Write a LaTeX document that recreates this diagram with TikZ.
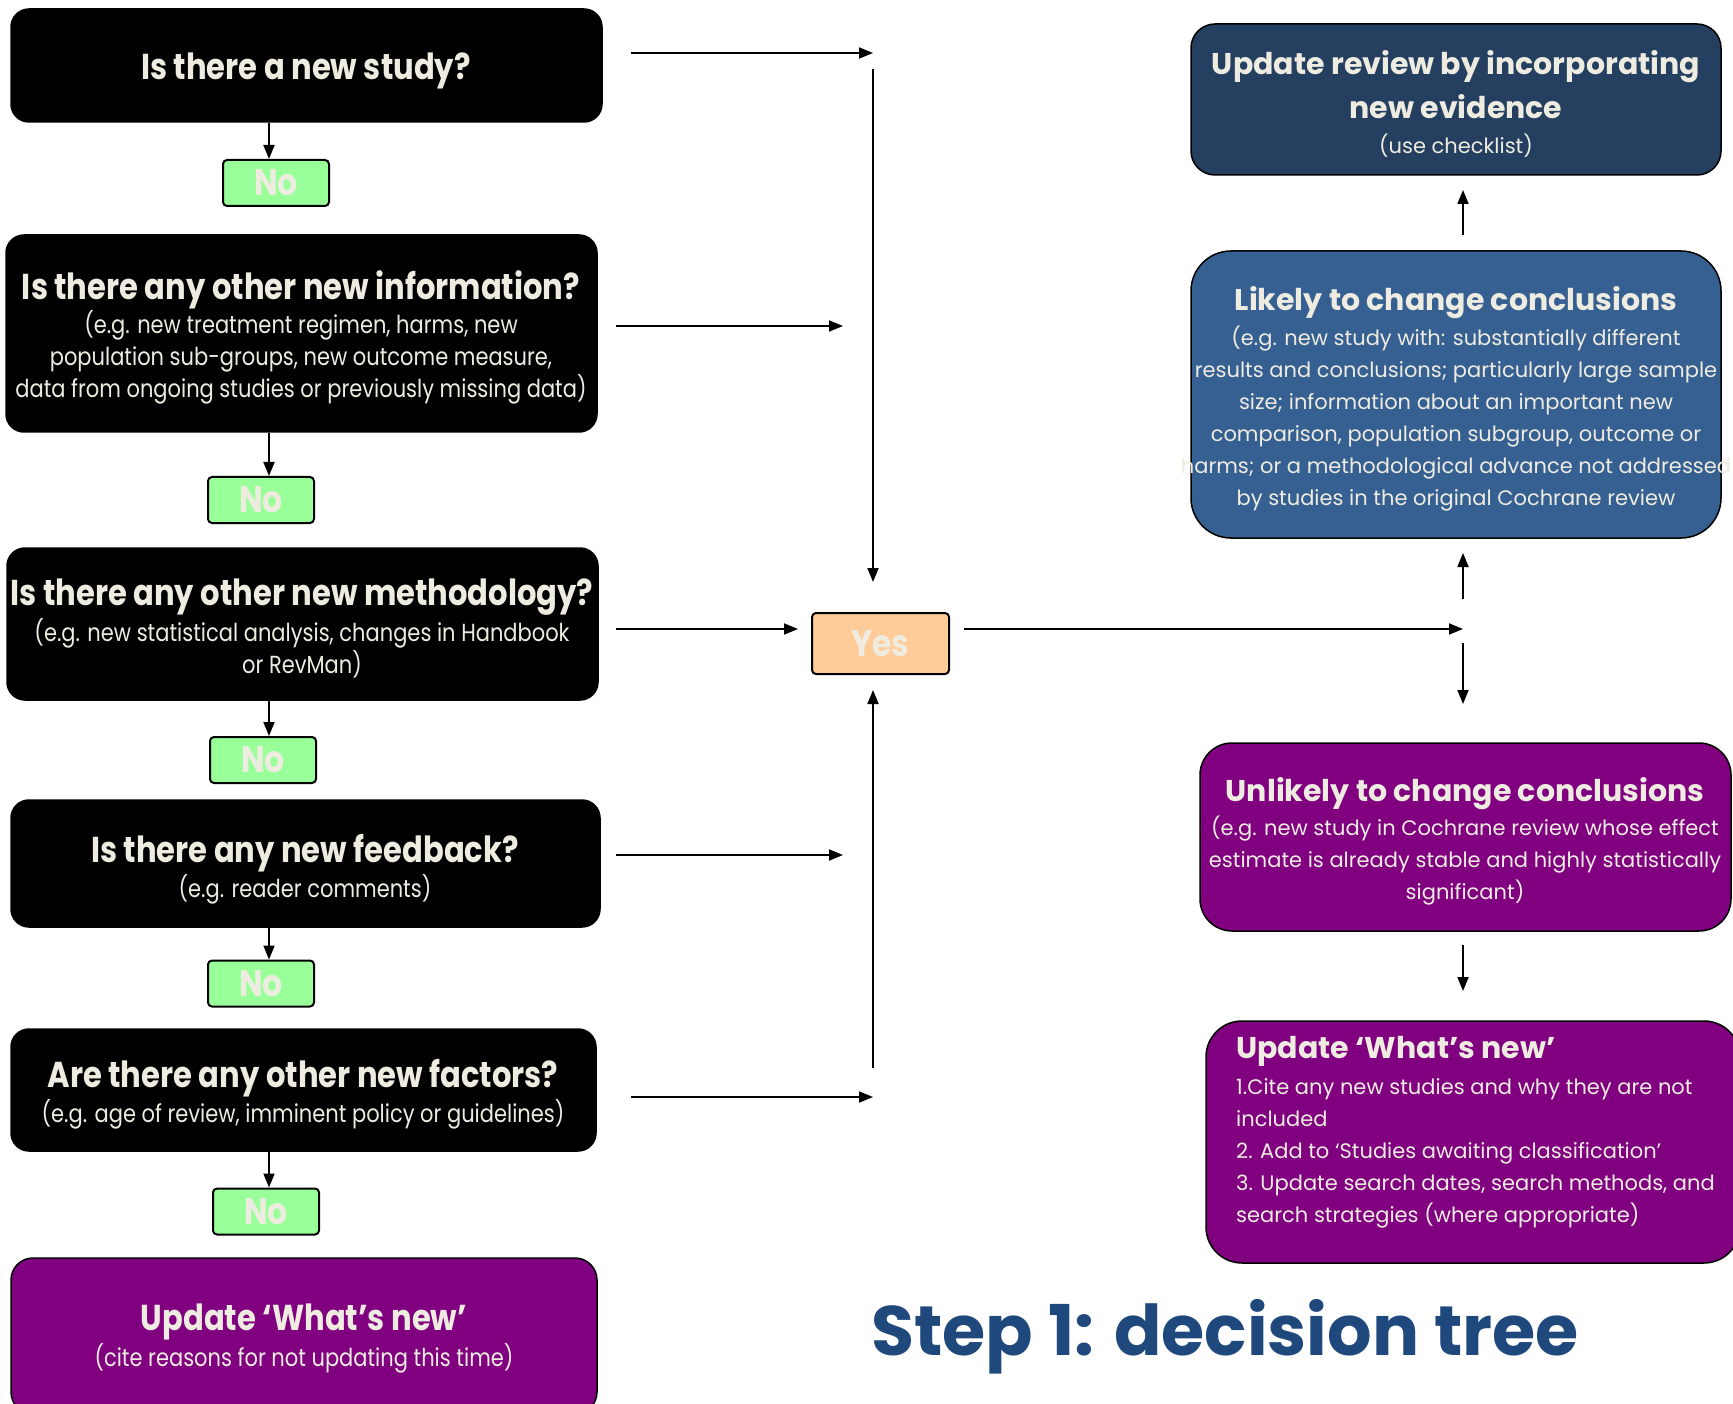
\documentclass[tikz,border=0pt]{standalone}
\usepackage{fontspec}
\setmainfont{Poppins}
\newfontfamily\cond[FakeStretch=0.85]{Poppins}
\usetikzlibrary{arrows.meta}
\definecolor{txt}{HTML}{EEECE1}
\definecolor{nogreen}{HTML}{99FF99}
\definecolor{yespeach}{HTML}{FFCC99}
\definecolor{navy}{HTML}{243F60}
\definecolor{steel}{HTML}{366092}
\definecolor{purp}{HTML}{800080}
\definecolor{ttl}{HTML}{1F497D}
\tikzset{
  box/.style={rectangle, draw=black, line width=1.5pt, inner sep=0pt},
  blk/.style={box, fill=black, rounded corners=18pt},
  nobox/.style={rectangle, rounded corners=4pt, draw=black, line width=2pt, fill=nogreen,
    minimum width=106pt, minimum height=46pt, inner sep=0pt, text=txt,
    font=\cond\bfseries\fontsize{37}{37}\selectfont},
  yesbox/.style={nobox, fill=yespeach, minimum width=137pt, minimum height=61pt},
  lt/.style={text=txt, inner sep=0pt, font=\cond\bfseries\fontsize{36}{40}\selectfont, align=center},
  ls/.style={text=txt, inner sep=0pt, font=\cond\fontsize{24.7}{32}\selectfont, align=center},
  rtt/.style={text=txt, inner sep=0pt, font=\bfseries\fontsize{30}{44}\selectfont, align=center},
  rss/.style={text=txt, inner sep=0pt, font=\fontsize{21}{32}\selectfont, align=center},
  arr/.style={line width=1.8pt, -{Triangle[length=14pt,width=11pt]}}
}
\begin{document}
\begin{tikzpicture}[x=1pt,y=-1pt]
\useasboundingbox (0,0) rectangle (1733,1404);
\fill[white] (0,0) rectangle (1733,1404);
\begin{scope}
\clip (0,0) rectangle (1733,1404);
% left question boxes
\node[blk, minimum width=591pt, minimum height=113pt] (B1) at (306.5,65.5) {};
\node[blk, minimum width=591pt, minimum height=197pt] (B2) at (301.5,333.5) {};
\node[blk, minimum width=591pt, minimum height=152pt] (B3) at (302.5,624) {};
\node[blk, minimum width=589pt, minimum height=127pt] (B4) at (305.5,863.5) {};
\node[blk, minimum width=585pt, minimum height=122pt] (B5) at (303.5,1090) {};
\node[box, fill=purp, rounded corners=22pt, minimum width=586pt, minimum height=156pt] (B6) at (304,1336) {};
% No boxes
\node[nobox] (N1) at (276,183) {No};
\node[nobox] (N2) at (261,500) {No};
\node[nobox] (N3) at (263,760) {No};
\node[nobox] (N4) at (261,983.5) {No};
\node[nobox] (N5) at (266,1211.5) {No};
\node[yesbox] (Y) at (880.5,643.5) {Yes};
% right boxes
\node[box, fill=navy, rounded corners=24pt, minimum width=530pt, minimum height=151pt] (R1) at (1456,99.5) {};
\node[box, fill=steel, rounded corners=40pt, minimum width=530pt, minimum height=287pt] (R2) at (1456,394.5) {};
\node[box, fill=purp, rounded corners=32pt, minimum width=531pt, minimum height=188pt] (R3) at (1465.5,837) {};
\node[box, fill=purp, rounded corners=36pt, minimum width=534pt, minimum height=242pt] (R4) at (1473,1142) {};
% left texts
\node[lt] (T1) at (306,71) {Is there a new study?};
\node[lt] (T2) at (301,290) {Is there any other new information?};
\node[ls] (S2) at (301,357) {(e.g. new treatment regimen, harms, new\\population sub-groups, new outcome measure,\\data from ongoing studies or previously missing data)};
\node[lt] (T3) at (302,597) {Is there any other new methodology?};
\node[ls] (S3) at (302,648) {(e.g. new statistical analysis, changes in Handbook\\or RevMan)};
\node[lt] (T4) at (305,853) {Is there any new feedback?};
\node[ls] (S4) at (305,889) {(e.g. reader comments)};
\node[lt] (T5) at (303,1078) {Are there any other new factors?};
\node[ls] (S5) at (303,1114) {(e.g. age of review, imminent policy or guidelines)};
\node[lt] (T6) at (304,1322) {Update ‘What’s new’};
\node[ls] (S6) at (304,1358) {(cite reasons for not updating this time)};
% right texts
\node[rtt] (RT1) at (1456,85) {Update review by incorporating\\new evidence};
\node[rss] (RS1) at (1456,146) {(use checklist)};
\node[rtt] (RT2) at (1456,303) {Likely to change conclusions};
\node[rss] (RS2) at (1456,419) {(e.g. new study with: substantially different\\results and conclusions; particularly large sample\\size; information about an important new\\comparison, population subgroup, outcome or\\harms; or a methodological advance not addressed\\by studies in the original Cochrane review};
\node[rtt] (RT3) at (1465,794) {Unlikely to change conclusions};
\node[rss] (RS3) at (1465,861) {(e.g. new study in Cochrane review whose effect\\estimate is already stable and highly statistically\\significant)};
\node[rtt, anchor=west] (RT4) at (1236,1051) {Update ‘What’s new’};
\node[rss, anchor=west, align=left, font=\fontsize{21}{32}\selectfont] (RS4) at (1236,1153) {1.Cite any new studies and why they are not\\included\\2. Add to ‘Studies awaiting classification’\\3. Update search dates, search methods, and\\search strategies (where appropriate)};
% title
\node[text=ttl, inner sep=0pt, font=\bfseries\fontsize{70}{76}\selectfont] (TT) at (1225,1337) {Step 1: decision tree};
\end{scope}
% connectors: question -> No
\coordinate (ax) at (269,0);
\foreach \b/\n in {B1/N1,B2/N2,B3/N3,B4/N4,B5/N5}
  \draw[arr] (\b.south -| ax) -- (\n.north -| ax);
% horizontal arrows to the collector
\coordinate (h1a) at (631,53);  \coordinate (h1b) at (873,53);
\coordinate (h2a) at (616,326); \coordinate (h2b) at (843,326);
\coordinate (h3a) at (616,629); \coordinate (h3b) at (798,629);
\coordinate (h4a) at (616,855); \coordinate (h4b) at (843,855);
\coordinate (h5a) at (631,1097); \coordinate (h5b) at (873,1097);
\draw[arr] (h1a) -- (h1b);
\draw[arr] (h2a) -- (h2b);
\draw[arr] (h3a) -- (h3b);
\draw[arr] (h4a) -- (h4b);
\draw[arr] (h5a) -- (h5b);
\coordinate (v1a) at (873,69);  \coordinate (v1b) at (873,582);
\coordinate (v2a) at (873,1068); \coordinate (v2b) at (873,690);
\draw[arr] (v1a) -- (v1b);
\draw[arr] (v2a) -- (v2b);
% yes -> right
\coordinate (ya) at (964,629); \coordinate (yb) at (1463,629);
\draw[arr] (ya) -- (yb);
\coordinate (u1a) at (1463,599); \coordinate (u1b) at (1463,553);
\coordinate (d1a) at (1463,643); \coordinate (d1b) at (1463,704);
\coordinate (u2a) at (1463,235); \coordinate (u2b) at (1463,190);
\coordinate (d2a) at (1463,945); \coordinate (d2b) at (1463,991);
\draw[arr] (u1a) -- (u1b);
\draw[arr] (d1a) -- (d1b);
\draw[arr] (u2a) -- (u2b);
\draw[arr] (d2a) -- (d2b);
\end{tikzpicture}
\end{document}
